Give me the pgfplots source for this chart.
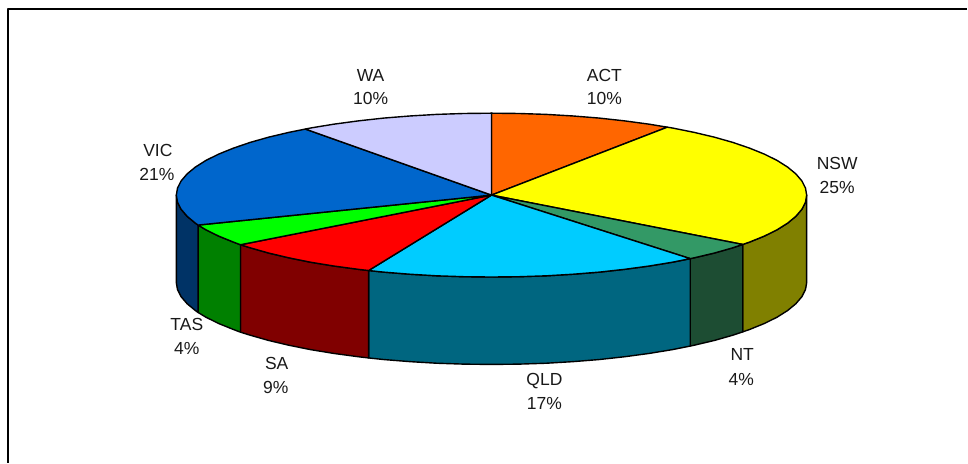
\documentclass[border=0pt]{standalone}
\usepackage{fontspec}
\setmainfont{Liberation Sans}
\usepackage{pgfplots}
\pgfplotsset{compat=1.18}
\definecolor{actT}{HTML}{FF6600}
\definecolor{nswT}{HTML}{FFFF00}
\definecolor{ntT}{HTML}{339966}
\definecolor{qldT}{HTML}{00CCFF}
\definecolor{saT}{HTML}{FF0000}
\definecolor{tasT}{HTML}{00FF00}
\definecolor{vicT}{HTML}{0066CC}
\definecolor{waT}{HTML}{CCCCFF}
\definecolor{nswS}{HTML}{808000}
\definecolor{ntS}{HTML}{1D4D33}
\definecolor{qldS}{HTML}{006680}
\definecolor{saS}{HTML}{800000}
\definecolor{tasS}{HTML}{008000}
\definecolor{vicS}{HTML}{003366}
\begin{document}
\begin{tikzpicture}
\begin{axis}[
  scale only axis, width=968pt, height=463pt,
  xmin=0, xmax=968, ymin=0, ymax=463, y dir=reverse,
  axis lines=none, clip=false,
  every axis plot/.append style={draw=black, line width=1.4pt, line join=round, mark=none},
]
\path (axis cs:0,0) rectangle (axis cs:968,463);
% frame
\addplot[draw=black, line width=2pt] coordinates {(8.5,463) (8.5,9.5) (968,9.5)};
% sides
\addplot[fill=nswS] coordinates {(807.5,195.3)(806.3,202.4)(802.7,209.5)(796.7,216.5)(788.5,223.3)(777.9,230)(765.2,236.3)(750.4,242.3)(743.5,244.7)
 (743.5,332.2)(750.4,329.8)(765.2,323.8)(777.9,317.5)(788.5,310.8)(796.7,304)(802.7,297)(806.3,289.9)(807.5,282.8)} --cycle;
\addplot[fill=ntS] coordinates {(743.5,244.7)(733.7,248)(715.1,253.3)(694.8,258.1)(691,258.9)
 (691,346.4)(694.8,345.6)(715.1,340.8)(733.7,335.5)(743.5,332.2)} --cycle;
\addplot[fill=qldS] coordinates {(691,258.9)(673,262.5)(649.8,266.3)(625.3,269.6)(599.9,272.4)(573.7,274.5)(546.8,276.1)(519.5,277)(492,277.3)(464.5,277)(437.2,276.1)(410.3,274.5)(384.1,272.4)(369,270.8)
 (369,358.3)(384.1,359.9)(410.3,362)(437.2,363.6)(464.5,364.5)(492,364.8)(519.5,364.5)(546.8,363.6)(573.7,362)(599.9,359.9)(625.3,357.1)(649.8,353.8)(673,350)(691,346.4)} --cycle;
\addplot[fill=saS] coordinates {(369,270.8)(358.7,269.6)(334.2,266.3)(311,262.5)(289.2,258.1)(268.9,253.3)(250.3,248)(240.7,245)
 (240.7,332.5)(250.3,335.5)(268.9,340.8)(289.2,345.6)(311,350)(334.2,353.8)(358.7,357.1)(369,358.3)} --cycle;
\addplot[fill=tasS] coordinates {(240.7,245)(233.6,242.3)(218.8,236.3)(206.1,230)(198.3,225.3)
 (198.3,312.8)(206.1,317.5)(218.8,323.8)(233.6,329.8)(240.7,332.5)} --cycle;
\addplot[fill=vicS] coordinates {(198.3,225.3)(195.5,223.3)(187.3,216.5)(181.3,209.5)(177.7,202.4)(176.5,195.3)
 (176.5,282.8)(177.7,289.9)(181.3,297)(187.3,304)(195.5,310.8)(198.3,312.8)} --cycle;
% top slices
\addplot[fill=actT] coordinates {(492,195.3)(492,113.3)(519.5,113.6)(546.8,114.5)(573.7,116.1)(599.9,118.2)(625.3,121)(649.8,124.3)(668,127.3)} --cycle;
\addplot[fill=nswT] coordinates {(492,195.3)(668,127.3)(673,128.1)(694.8,132.5)(715.1,137.3)(733.7,142.6)(750.4,148.3)(765.2,154.3)(777.9,160.6)(788.5,167.3)(796.7,174.1)(802.7,181.1)(806.3,188.2)(807.5,195.3)(806.3,202.4)(802.7,209.5)(796.7,216.5)(788.5,223.3)(777.9,230)(765.2,236.3)(750.4,242.3)(743.5,244.7)} --cycle;
\addplot[fill=ntT] coordinates {(492,195.3)(743.5,244.7)(733.7,248)(715.1,253.3)(694.8,258.1)(691,258.9)} --cycle;
\addplot[fill=qldT] coordinates {(492,195.3)(691,258.9)(673,262.5)(649.8,266.3)(625.3,269.6)(599.9,272.4)(573.7,274.5)(546.8,276.1)(519.5,277)(492,277.3)(464.5,277)(437.2,276.1)(410.3,274.5)(384.1,272.4)(369,270.8)} --cycle;
\addplot[fill=saT] coordinates {(492,195.3)(369,270.8)(358.7,269.6)(334.2,266.3)(311,262.5)(289.2,258.1)(268.9,253.3)(250.3,248)(240.7,245)} --cycle;
\addplot[fill=tasT] coordinates {(492,195.3)(240.7,245)(233.6,242.3)(218.8,236.3)(206.1,230)(198.3,225.3)} --cycle;
\addplot[fill=vicT] coordinates {(492,195.3)(198.3,225.3)(195.5,223.3)(187.3,216.5)(181.3,209.5)(177.7,202.4)(176.5,195.3)(177.7,188.2)(181.3,181.1)(187.3,174.1)(195.5,167.3)(206.1,160.6)(218.8,154.3)(233.6,148.3)(250.3,142.6)(268.9,137.3)(289.2,132.5)(305.7,129.2)} --cycle;
\addplot[fill=waT] coordinates {(492,195.3)(305.7,129.2)(311,128.1)(334.2,124.3)(358.7,121)(384.1,118.2)(410.3,116.1)(437.2,114.5)(464.5,113.6)(492,113.3)} --cycle;
% labels
\tikzset{lab/.style={font=\fontsize{17.5}{20}\selectfont, anchor=base, inner sep=0pt, text=black!90}}
\node[lab] at (axis cs:605,82) {ACT};
\node[lab] at (axis cs:605,105) {10\%};
\node[lab] at (axis cs:371,82) {WA};
\node[lab] at (axis cs:371,105) {10\%};
\node[lab] at (axis cs:838,170) {NSW};
\node[lab] at (axis cs:838,194) {25\%};
\node[lab] at (axis cs:158,157) {VIC};
\node[lab] at (axis cs:157,181) {21\%};
\node[lab] at (axis cs:187,331) {TAS};
\node[lab] at (axis cs:187,355) {4\%};
\node[lab] at (axis cs:277,370) {SA};
\node[lab] at (axis cs:276,394) {9\%};
\node[lab] at (axis cs:545,386) {QLD};
\node[lab] at (axis cs:545,410) {17\%};
\node[lab] at (axis cs:743,361) {NT};
\node[lab] at (axis cs:742,386) {4\%};
\end{axis}
\end{tikzpicture}
\end{document}
